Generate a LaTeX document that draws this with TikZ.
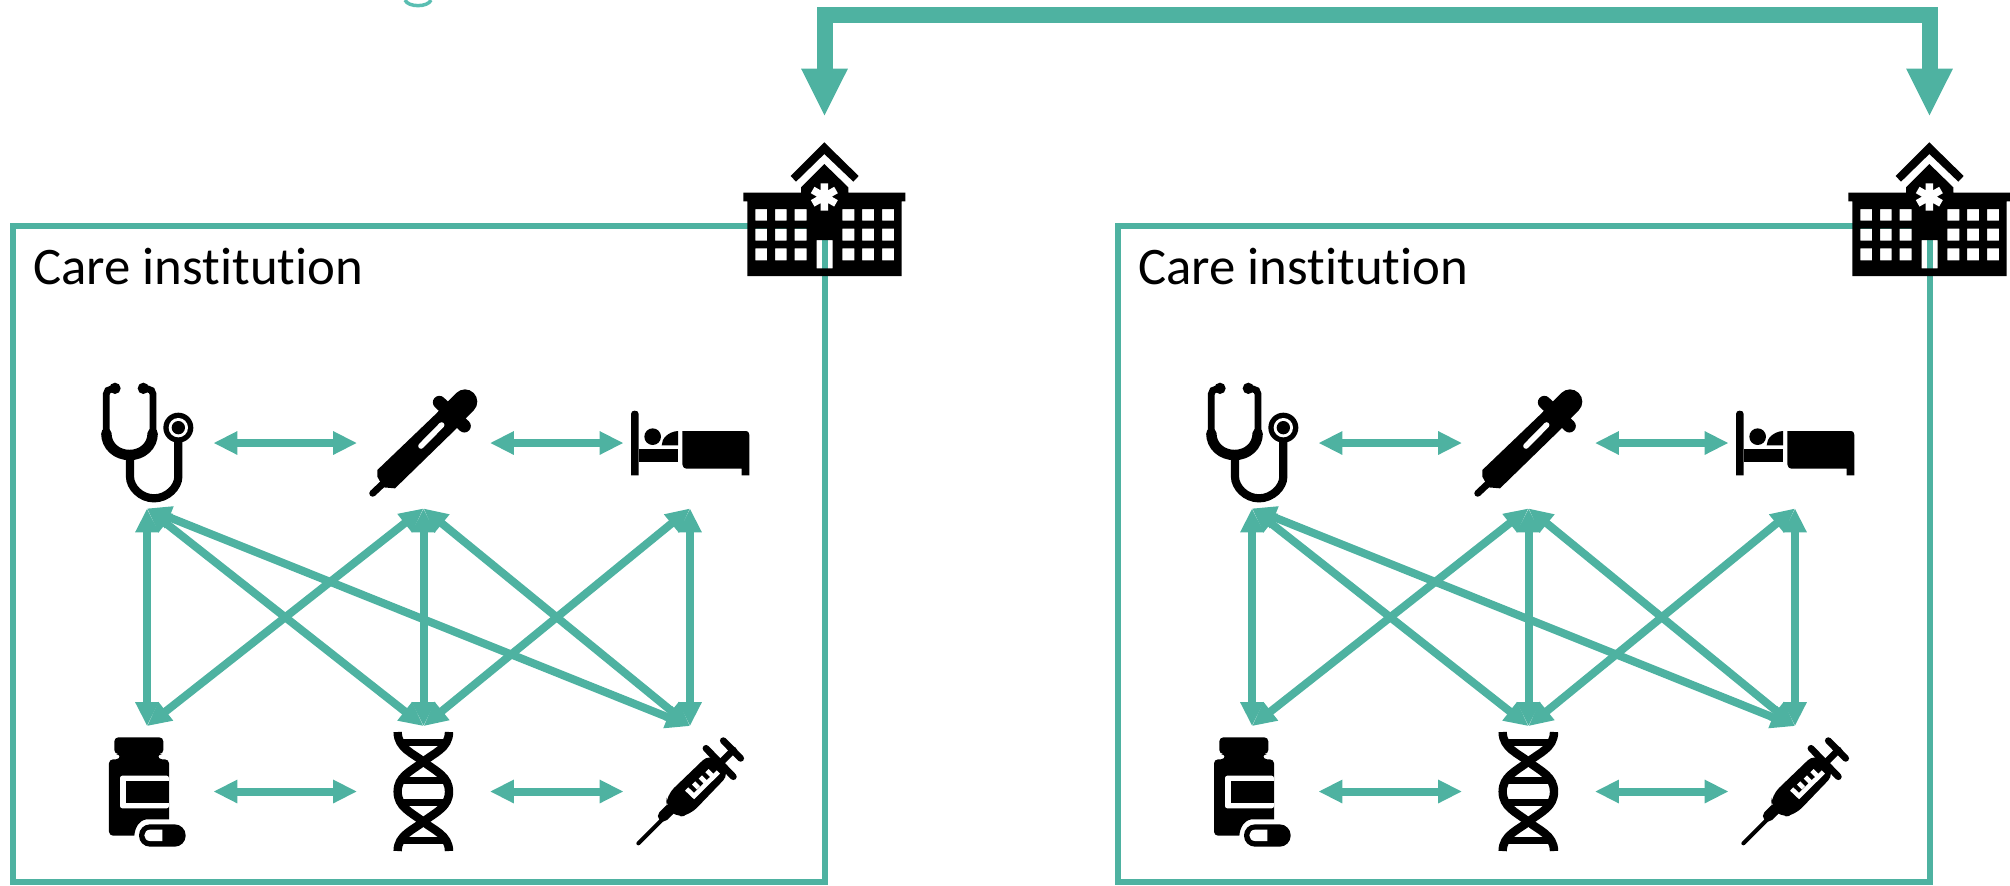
\documentclass[tikz,border=0pt]{standalone}
\usepackage{fontspec}
\setmainfont[Ligatures=NoCommon]{Carlito}
\usetikzlibrary{arrows.meta,positioning}
\definecolor{careteal}{RGB}{78,178,161}
\definecolor{titleteal}{RGB}{90,190,178}
\tikzstyle{link} = [line width=4pt,<->,>={Triangle[length=12pt,width=11pt]},color=careteal]
\tikzstyle{rail} = [line width=8pt,<->,>={Triangle[length=24pt,width=21.5pt]},color=careteal]
\tikzstyle{carebox} = [rectangle, draw=careteal, line width=3pt, minimum width=405.75pt, minimum height=328.25pt]
\tikzstyle{iconbox} = [rectangle, minimum width=66pt, minimum height=65pt, inner sep=0pt]
\tikzstyle{hospitalbox} = [rectangle, minimum width=81pt, minimum height=79.5pt, inner sep=0pt]
\tikzstyle{iconunits} = [x=0.16667pt,y=-0.16667pt]
\tikzset{
  pics/stethicon/.style={code={
    \begin{scope}[iconunits,shift={(-171,-219)}]
    \fill (75,55) circle[radius=17] (160,55) circle[radius=17];
    \draw[line width=3.4pt,rounded corners=2.5pt] (70,57) -- (49,57) -- (49,190);
    \draw[line width=3.4pt,rounded corners=2.5pt] (165,57) -- (189,57) -- (189,190);
    \draw[line width=5.2pt,line cap=round] (49,190) .. controls (49,228) and (80,255) .. (118.5,255) .. controls (157,255) and (188,228) .. (188,190);
    \draw[line width=4.1pt] (120,255) -- (120,320) .. controls (120,351) and (152,385) .. (192,385) .. controls (232,385) and (265,351) .. (265,320) -- (265,210);
    \fill (265,173) circle[radius=45];
    \fill[white] (265,173) circle[radius=29];
    \fill (265,173) circle[radius=20];
    \end{scope}}},
  pics/pipetteicon/.style={code={
    \begin{scope}[iconunits,shift={(-190.5,-219)}]
    \fill (52,300) -- (240,120) -- (295,170) -- (105,355) -- (70,352) -- (52,320) -- cycle;
    \draw[line width=3.4pt,line cap=round] (72,338) -- (38,370);
    \draw[line width=6.5pt,line cap=round] (238,97) -- (313,168);
    \draw[line width=12.3pt,line cap=round] (265,145) -- (315,95);
    \draw[white,line width=2.8pt,line cap=round] (183,228) -- (245,165);
    \end{scope}}},
  pics/bedicon/.style={code={
    \begin{scope}[iconunits,shift={(-990,-219)}]
    \fill (813,316) -- (813,132) .. controls (813,125) and (818,122) .. (824,122) .. controls (831,122) and (836,125) .. (836,132) -- (836,316) -- cycle;
    \fill (836,236) rectangle (954,275);
    \fill (878,200) circle[radius=25];
    \fill (905,226) .. controls (905,205) and (925,185) .. (954,183) -- (954,226) -- cycle;
    \fill (967,183) -- (1155,183) .. controls (1165,183) and (1168,188) .. (1168,195) -- (1168,316) -- (1145,316) -- (1145,296) -- (982,296) .. controls (972,296) and (967,290) .. (967,283) -- cycle;
    \end{scope}}},
  pics/bottleicon/.style={code={
    \begin{scope}[iconunits,shift={(-171,-214.5)}]
    \fill[rounded corners=2pt] (73,102) -- (73,52) -- (220,52) -- (220,102) -- (204,102) -- (204,118) -- (237,118) [sharp corners] -- (237,298) -- (170,298) .. controls (148,300) and (135,322) .. (133,347) [rounded corners=2pt] -- (57,347) -- (57,118) -- (90,118) -- (90,102) -- cycle;
    \fill[white,rounded corners=1.2pt] (237,167) -- (90,167) -- (90,265) -- (237,265) -- cycle;
    \fill (107,183) rectangle (237,248);
    \fill[rounded corners=5.5pt] (147,313) rectangle (287,380);
    \fill[white] (217,329) -- (180,329) .. controls (170,329) and (163,337) .. (163,346) .. controls (163,355) and (170,363) .. (180,363) -- (217,363) -- cycle;
    \end{scope}}},
  pics/dnaicon/.style={code={
    \begin{scope}[iconunits,shift={(-160.5,-214.5)}]
    \draw[line width=4.2pt] (83,36) .. controls (83,85) and (130,100) .. (160,125) .. controls (200,155) and (237,170) .. (237,215) .. controls (237,260) and (200,275) .. (160,305) .. controls (130,330) and (83,345) .. (83,393);
    \draw[line width=4.2pt] (237,36) .. controls (237,85) and (190,100) .. (160,125) .. controls (120,155) and (83,170) .. (83,215) .. controls (83,260) and (120,275) .. (160,305) .. controls (190,330) and (237,345) .. (237,393);
    \draw[line width=3.6pt] (92,67) -- (228,67) (100,181) -- (220,181) (100,247) -- (220,247) (92,361) -- (228,361);
    \end{scope}}},
  pics/syringeicon/.style={code={
    \begin{scope}[iconunits,shift={(-960,-214.5)}]
    \draw[line width=2pt,line cap=round] (805,370) -- (885,290);
    \draw[line width=5.5pt,line cap=round] (880,288) -- (900,268);
    \fill[rounded corners=5pt] (888,262) -- (890,225) -- (1020,100) -- (1080,160) -- (960,285) -- (915,292) -- cycle;
    \draw[line width=3.4pt,line cap=round] (1008,85) -- (1090,170);
    \draw[line width=3.4pt,line cap=round] (1050,130) -- (1090,90);
    \draw[line width=3.4pt,line cap=round] (1060,62) -- (1112,115);
    \draw[white,line width=2.3pt] (950,207) -- (972,228) -- (1045,156) (971,189) -- (985,203) (991,171) -- (1005,185) (1011,152) -- (1025,166);
    \end{scope}}},
  pics/hospitalicon/.style={code={
    \begin{scope}[iconunits,shift={(-313.5,-199.5)}]
    \fill (313,37) -- (416,138) -- (400,155) -- (313,72) -- (228,155) -- (212,138) -- cycle;
    \fill[even odd rule] (313,102) -- (385,172) -- (385,188) -- (556,188) -- (556,214) -- (545,214) -- (545,438) -- (82,438) -- (82,214) -- (70,214) -- (70,188) -- (243,188) -- (243,172) -- cycle
      (106,237) rectangle (141,272) (165,237) rectangle (200,272) (224,237) rectangle (260,272)
      (367,237) rectangle (403,272) (426,237) rectangle (462,272) (486,237) rectangle (522,272)
      (106,296) rectangle (141,332) (165,296) rectangle (200,332) (224,296) rectangle (260,332)
      (367,296) rectangle (403,332) (426,296) rectangle (462,332) (486,296) rectangle (522,332)
      (106,355) rectangle (141,391) (165,355) rectangle (200,391) (224,355) rectangle (260,391)
      (367,355) rectangle (403,391) (426,355) rectangle (462,391) (486,355) rectangle (522,391)
      (290,330) rectangle (338,415);
    \draw[white,line width=3.7pt] (313,160) -- (313,242) (278,180) -- (348,220) (278,220) -- (348,180);
    \end{scope}}}
}
% one institution with its six roles
\newcommand{\carepanel}[2]{
\begin{scope}[shift={(#2,0)}, name prefix=#1-]
\node (care) [carebox] at (418.75,553.75) {};
\node (carelabel) [anchor=base west, inner sep=0pt, font=\fontsize{26.4}{30}\selectfont] at (33,284) {Care institution};

\node (hospital) [hospitalbox] at (824.5,196.5) {};
\pic at (hospital) {hospitalicon};

% Top row
\node (steth) [iconbox] at (147,443) {};
\node (pipette) [iconbox, right of=steth, node distance=138.25pt] {};
\node (bed) [iconbox, right of=pipette, node distance=133.25pt] {};

% Bottom row
\node (bottle) [iconbox, below of=steth, node distance=174.25pt] {};
\node (dna) [iconbox, below of=pipette, node distance=174.25pt] {};
\node (syringe) [iconbox, below of=bed, node distance=174.25pt] {};

\pic at (steth) {stethicon};
\pic at (pipette) {pipetteicon};
\pic at (bed) {bedicon};
\pic at (bottle) {bottleicon};
\pic at (dna) {dnaicon};
\pic at (syringe) {syringeicon};

% Arrows
\draw[link] (steth.east) -- (pipette.west);
\draw[link] (pipette.east) -- (bed.west);
\draw[link] (bottle.east) -- (dna.west);
\draw[link] (dna.east) -- (syringe.west);
\draw[link] (steth.south) -- (bottle.north);
\draw[link] (pipette.south) -- (dna.north);
\draw[link] (bed.south) -- (syringe.north);
\draw[link] (steth.south) -- (dna.north);
\draw[link] (steth.south) -- (syringe.north);
\draw[link] (pipette.south) -- (bottle.north);
\draw[link] (pipette.south) -- (syringe.north);
\draw[link] (bed.south) -- (dna.north);
\end{scope}
}

\begin{document}
\begin{tikzpicture}[x=0.5pt,y=-0.5pt]
\useasboundingbox (0,0) rectangle (2010,885);

% Tail of the cut-off title
\draw[titleteal, line width=1.75pt] (405,0) .. controls (408,7.5) and (428,7.5) .. (431,0);

\carepanel{a}{0}
\carepanel{b}{1105}

% Link between the institutions
\coordinate (railtop) at (1378,15);
\draw[rail] (a-hospital.north) |- (railtop) -| (b-hospital.north);
\end{tikzpicture}
\end{document}
